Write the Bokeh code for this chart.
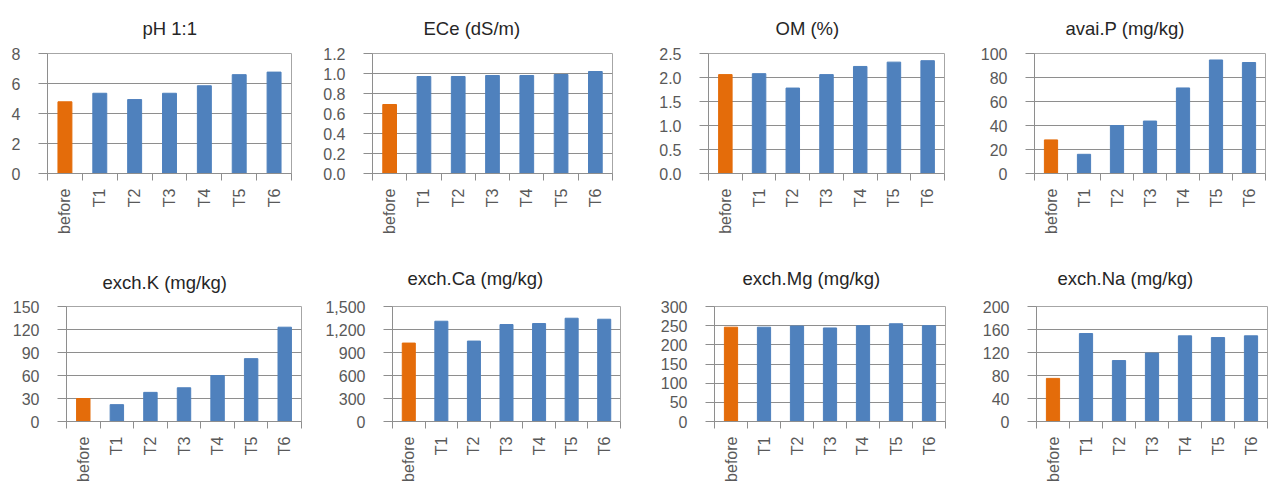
from bokeh.plotting import figure
from bokeh.layouts import column, row
from bokeh.models import Range1d, FixedTicker, NumeralTickFormatter, ColumnDataSource
from bokeh.embed import file_html
from bokeh.resources import INLINE

# ---------------- data ----------------
categories = ["before", "T1", "T2", "T3", "T4", "T5", "T6"]

ph_values = [4.78, 5.35, 4.93, 5.35, 5.85, 6.59, 6.76]
ece_values = [0.69, 0.97, 0.97, 0.98, 0.98, 0.99, 1.02]
om_values = [2.06, 2.08, 1.78, 2.06, 2.23, 2.32, 2.35]
avaip_values = [28, 16, 40, 43.7, 71.3, 94.6, 92.5]
exchk_values = [30, 22, 38, 44, 60, 82, 123]
exchca_values = [1023, 1308, 1049, 1265, 1278, 1347, 1334]
exchmg_values = [246, 246, 249, 244, 250, 255, 250]
exchna_values = [75, 153, 106, 119, 149, 146, 149]

titles = ["pH 1:1", "ECe (dS/m)", "OM (%)", "avai.P (mg/kg)",
          "exch.K (mg/kg)", "exch.Ca (mg/kg)", "exch.Mg (mg/kg)", "exch.Na (mg/kg)"]

ph_ticks = [0, 2, 4, 6, 8]
ece_ticks = [0.0, 0.2, 0.4, 0.6, 0.8, 1.0, 1.2]
om_ticks = [0.0, 0.5, 1.0, 1.5, 2.0, 2.5]
avaip_ticks = [0, 20, 40, 60, 80, 100]
exchk_ticks = [0, 30, 60, 90, 120, 150]
exchca_ticks = [0, 300, 600, 900, 1200, 1500]
exchmg_ticks = [0, 50, 100, 150, 200, 250, 300]
exchna_ticks = [0, 40, 80, 120, 160, 200]

# ---------------- style ----------------
ORANGE = "#E46C0A"
BLUE = "#4F81BD"
GRID = "#8E8E8E"
AXIS = "#8E8E8E"
LABEL = "#595959"
TITLE = "#262626"
FONT = "Liberation Sans"


def panel(title, values, ticks, fmt, W, H, bl, br, bt, bb, toff, tstand):
    idx = list(range(len(categories)))
    colors = [ORANGE if c == "before" else BLUE for c in categories]
    src = ColumnDataSource(dict(x=idx, top=values, color=colors))
    p = figure(width=W, height=H, x_range=Range1d(-0.5, len(categories) - 0.5),
               y_range=Range1d(ticks[0], ticks[-1]), output_backend="svg",
               toolbar_location=None, title=title,
               min_border_left=bl, min_border_right=br,
               min_border_top=bt, min_border_bottom=bb)
    p.vbar(x="x", top="top", width=0.4, source=src, fill_color="color", line_color="color")

    p.title.align = "left"
    p.title.offset = toff
    p.title.text_font = FONT
    p.title.text_font_size = "18.5px"
    p.title.text_font_style = "normal"
    p.title.text_color = TITLE
    p.title.standoff = tstand

    p.outline_line_color = "#A6A6A6"
    p.outline_line_width = 1

    # x axis: labels at categories, tick marks between categories
    xa = p.xaxis[0]
    xa.ticker = FixedTicker(ticks=idx, minor_ticks=[i - 0.5 for i in range(len(categories) + 1)])
    xa.major_label_overrides = {i: c for i, c in zip(idx, categories)}
    xa.major_label_orientation = 1.5707963
    xa.major_tick_line_color = None
    xa.major_tick_out = 0
    xa.major_tick_in = 0
    xa.minor_tick_out = 7
    xa.minor_tick_in = 0
    xa.minor_tick_line_color = AXIS
    xa.axis_line_color = AXIS
    xa.major_label_standoff = 8
    xa.major_label_text_font = FONT
    xa.major_label_text_font_size = "16px"
    xa.major_label_text_color = LABEL

    ya = p.yaxis[0]
    ya.ticker = FixedTicker(ticks=ticks)
    if fmt:
        ya.formatter = NumeralTickFormatter(format=fmt)
    ya.major_tick_out = 9
    ya.major_tick_in = 0
    ya.minor_tick_line_color = None
    ya.major_tick_line_color = AXIS
    ya.axis_line_color = AXIS
    ya.major_label_standoff = 18
    ya.major_label_text_font = FONT
    ya.major_label_text_font_size = "16px"
    ya.major_label_text_color = LABEL

    p.xgrid.visible = False
    p.ygrid.grid_line_color = GRID
    p.ygrid.grid_line_width = 1
    return p


r1 = row(
    panel(titles[0], ph_values, ph_ticks, None, 310, 240, 47, 19, 50, 67, 95, 29),
    panel(titles[1], ece_values, ece_ticks, "0.0", 320, 240, 62, 18, 51, 64, 51, 30),
    panel(titles[2], om_values, om_ticks, "0.0", 320, 240, 78, 6, 50, 63, 67, 29),
    panel(titles[3], avaip_values, avaip_ticks, None, 321, 240, 84, 6, 51, 65, 31, 30),
)
r2 = row(
    panel(titles[4], exchk_values, exchk_ticks, None, 310, 245, 66, 9, 62, 53, 36, 28),
    panel(titles[5], exchca_values, exchca_ticks, "0,0", 320, 245, 82, 10, 66, 64, 15, 36),
    panel(titles[6], exchmg_values, exchmg_ticks, None, 320, 245, 84, 5, 66, 55, 28, 36),
    panel(titles[7], exchna_values, exchna_ticks, None, 321, 245, 86, 4, 66, 53, 21, 36),
)
layout = column(r1, r2)

open("out.html", "w").write(file_html(layout, INLINE))
